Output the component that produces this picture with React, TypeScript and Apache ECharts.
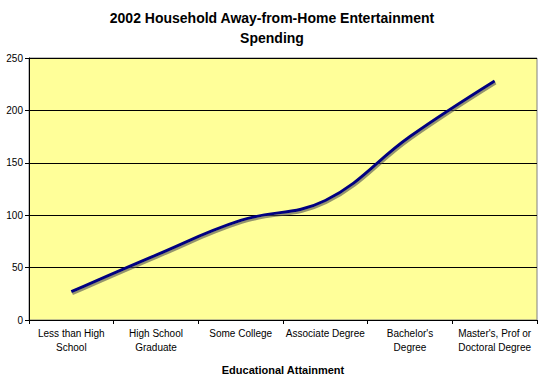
import React, { useEffect, useRef } from "react";
import * as echarts from "echarts";

const categories = [
  "Less than High\nSchool",
  "High School\nGraduate",
  "Some College",
  "Associate Degree",
  "Bachelor's\nDegree",
  "Master's, Prof or\nDoctoral Degree",
];
const spending = [27, 62, 95, 114, 175, 228];
const yTicks = { min: 0, max: 250, interval: 50 };
const titleText = "2002 Household Away-from-Home Entertainment\nSpending";
const xAxisName = "Educational Attainment";

export default function App() {
  const ref = useRef<HTMLDivElement>(null);
  useEffect(() => {
    if (!ref.current) return;
    const chart = echarts.init(ref.current, undefined, { renderer: "svg" });
    const font = "Arial, 'Liberation Sans', sans-serif";
    chart.setOption({
      animation: false,
      backgroundColor: "#ffffff",
      title: {
        text: titleText,
        left: 267,
        textAlign: "center",
        top: 3,
        textStyle: {
          fontFamily: font,
          fontWeight: "bold",
          fontSize: 14,
          lineHeight: 20,
          color: "#000",
        },
      },
      grid: {
        left: 29,
        right: 3,
        top: 58,
        bottom: 57,
        show: true,
        backgroundColor: "#FFFF99",
        borderColor: "#808080",
        borderWidth: 1,
      },
      xAxis: {
        type: "category",
        data: categories,
        boundaryGap: true,
        name: xAxisName,
        nameLocation: "middle",
        nameGap: 44,
        nameTextStyle: {
          fontFamily: font,
          fontWeight: "bold",
          fontSize: 11,
          color: "#000",
        },
        axisLine: { show: true, lineStyle: { color: "#000", width: 1 } },
        axisTick: { show: true, length: 4, alignWithLabel: false, lineStyle: { color: "#000" } },
        axisLabel: {
          interval: 0,
          margin: 6,
          fontFamily: font,
          fontSize: 10,
          lineHeight: 14,
          color: "#000",
        },
        splitLine: { show: false },
      },
      yAxis: {
        type: "value",
        min: yTicks.min,
        max: yTicks.max,
        interval: yTicks.interval,
        axisLine: { show: true, lineStyle: { color: "#000", width: 1 } },
        axisTick: { show: true, length: 4, lineStyle: { color: "#000" } },
        axisLabel: {
          margin: 6,
          fontFamily: font,
          fontSize: 10,
          color: "#000",
        },
        splitLine: { show: true, lineStyle: { color: "#000", width: 1 } },
      },
      series: [
        {
          type: "line",
          data: spending,
          smooth: 0.4,
          symbol: "none",
          lineStyle: {
            color: "#000080",
            width: 3,
            shadowColor: "rgba(80,80,80,0.6)",
            shadowOffsetX: 1,
            shadowOffsetY: 2,
            shadowBlur: 0,
          },
        },
      ],
    });
    return () => chart.dispose();
  }, []);
  return (
    <div
      ref={ref}
      style={{ position: "fixed", left: 0, top: 0, width: 540, height: 380 }}
    />
  );
}
